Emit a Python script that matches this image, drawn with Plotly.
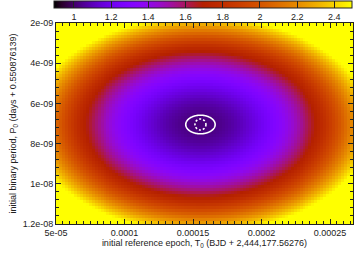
import numpy as np
import plotly.graph_objects as go

# ---- data ----
t0_range = [5e-05, 2.667e-04]          # initial reference epoch range
p0_range = [2e-09, 1.2e-08]            # initial binary period range
n_t0, n_p0 = 100, 67                   # grid resolution of the map
best_t0 = [1.554e-04]                  # best-fit epoch offset
best_p0 = [7.05e-09]                   # best-fit period offset
chi2_min = [1.02]                      # minimum reduced chi^2
chi2_curv_t0 = [1.24e-04]              # T0 offset at which chi^2 rises by chi2_rise
chi2_curv_p0 = [5.35e-09]              # P0 offset at which chi^2 rises by chi2_rise
chi2_rise = [1.47]
contour_level = [1.031]
cb_range = [0.893, 2.495]

x_tickvals = [5e-05, 1e-04, 1.5e-04, 2e-04, 2.5e-04]
x_ticktext = ["5e-05", "0.0001", "0.00015", "0.0002", "0.00025"]
y_tickvals = [2e-09, 4e-09, 6e-09, 8e-09, 1e-08, 1.2e-08]
y_ticktext = ["2e-09", "4e-09", "6e-09", "8e-09", "1e-08", "1.2e-08"]
cb_tickvals = [1, 1.2, 1.4, 1.6, 1.8, 2, 2.2, 2.4]
cb_ticktext = ["1", "1.2", "1.4", "1.6", "1.8", "2", "2.2", "2.4"]

# ---- grid ----
dx = (t0_range[1] - t0_range[0]) / n_t0
dy = (p0_range[1] - p0_range[0]) / n_p0
t0 = t0_range[0] + (np.arange(n_t0) + 0.5) * dx
p0 = p0_range[0] + (np.arange(n_p0) + 0.5) * dy
T, P = np.meshgrid(t0, p0)
chi2 = chi2_min[0] + chi2_rise[0] * (((T - best_t0[0]) / chi2_curv_t0[0]) ** 2
                                     + ((P - best_p0[0]) / chi2_curv_p0[0]) ** 2)

# gnuplot default pm3d palette (rgbformulae 7,5,15)
stops = np.linspace(0, 1, 41)
colorscale = []
for s in stops:
    r = np.sqrt(s)
    g = s ** 3
    b = max(0.0, np.sin(2 * np.pi * s))
    colorscale.append([float(s), f"rgb({int(round(r*255))},{int(round(g*255))},{int(round(b*255))})"])

font = dict(family="Liberation Sans, Arial, sans-serif", size=9, color="#222")

fig = go.Figure()
fig.add_trace(go.Heatmap(
    x=t0, y=p0, z=chi2, zmin=cb_range[0], zmax=cb_range[1],
    colorscale=colorscale, zsmooth=False, hoverinfo="skip",
    colorbar=dict(
        orientation="h", lenmode="pixels", len=298, thickness=7,
        x=-0.0067, xanchor="left", y=1.109, yanchor="top",
        xpad=0, ypad=0, outlinewidth=1, outlinecolor="#222",
        tickvals=cb_tickvals, ticktext=cb_ticktext,
        ticks="inside", ticklen=7, tickcolor="#222", tickwidth=1,
        tickfont=font, ticklabelposition="outside bottom",
    ),
))

# fine grid for the confidence contour
tf = np.linspace(best_t0[0] - 2.5e-05, best_t0[0] + 2.5e-05, 121)
pf = np.linspace(best_p0[0] - 1.2e-09, best_p0[0] + 1.2e-09, 121)
TF, PF = np.meshgrid(tf, pf)
chi2f = chi2_min[0] + chi2_rise[0] * (((TF - best_t0[0]) / chi2_curv_t0[0]) ** 2
                                      + ((PF - best_p0[0]) / chi2_curv_p0[0]) ** 2)
fig.add_trace(go.Contour(
    x=tf, y=pf, z=chi2f, showscale=False,
    contours=dict(coloring="none", start=contour_level[0], end=contour_level[0], size=1),
    line=dict(color="white", width=1.6), hoverinfo="skip",
))

fig.add_shape(type="circle", xref="x", yref="y",
              xsizemode="pixel", ysizemode="pixel",
              xanchor=best_t0[0], yanchor=best_p0[0],
              x0=-5.5, x1=5.5, y0=-5.5, y1=5.5,
              line=dict(color="white", width=1.6, dash="2px,2px"))

axis_common = dict(
    showline=True, mirror="allticks", linecolor="#222", linewidth=1,
    ticks="inside", ticklen=5, tickcolor="#222", tickfont=font,
    showgrid=False, zeroline=False,
)
fig.update_xaxes(
    range=t0_range, tickvals=x_tickvals, ticktext=x_ticktext,
    minor=dict(ticks="inside", ticklen=3, dtick=5e-06, tick0=5e-05, tickcolor="#222", showgrid=False),
    title=dict(text="initial reference epoch, T<sub>0</sub> (BJD + 2,444,177.56276)", font=font, standoff=2),
    **axis_common,
)
fig.update_yaxes(
    range=[p0_range[1], p0_range[0]], tickvals=y_tickvals, ticktext=y_ticktext,
    minor=dict(ticks="inside", ticklen=3, dtick=4e-10, tick0=2e-09, tickcolor="#222", showgrid=False),
    title=dict(text="initial binary period, P<sub>0</sub> (days + 0.550876139)", font=font, standoff=4),
    **axis_common,
)
fig.update_layout(
    width=355, height=253,
    margin=dict(l=56, r=2, t=23, b=29, autoexpand=False),
    paper_bgcolor="white", plot_bgcolor="white",
    showlegend=False, font=font,
)
fig.write_html("out.html", config={"displayModeBar": False},
               post_script="document.body.style.margin='0';document.body.style.overflow='hidden';")
